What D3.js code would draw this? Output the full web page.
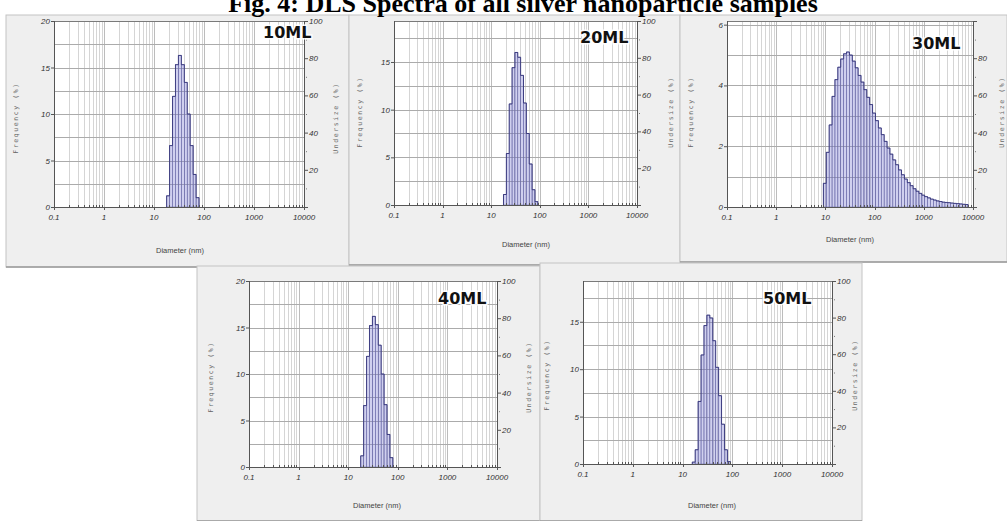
<!DOCTYPE html>
<html><head><meta charset="utf-8">
<script src="https://cdn.jsdelivr.net/npm/d3@7"></script>
<style>
html,body{margin:0;padding:0;background:#fff;}
svg{display:block;}
</style></head><body>
<svg id="chart" width="1007" height="521"></svg>
<script>
// ---------------- DATA ----------------
const titleText = "Fig. 4: DLS Spectra of all silver nanoparticle samples";
const xAxisTitle = "Diameter (nm)";
const leftAxisTitle = "Frequency (%)";
const rightAxisTitle = "Undersize (%)";

// instrument size classes (bin edges, nm)
const sizeEdges = [9.10, 10.42, 11.93, 13.65, 15.63, 17.90, 20.50, 23.47, 26.87, 30.77,
  35.23, 40.34, 46.19, 52.89, 60.56, 69.34, 79.43, 90.95, 104.15, 119.25,
  136.54, 156.34, 179.01, 204.97, 234.69, 268.72, 307.68, 352.30, 403.39, 461.88,
  528.86, 605.55, 693.36, 793.93, 909.5, 1041.5, 1192.5, 1365.4, 1563.4, 1790.1,
  2049.7, 2346.9, 2687.2, 3076.8, 3523.0, 4033.9, 4618.8, 5288.6, 6055.5, 6933.6, 7939.3];

const sampleNames = ["10ML", "20ML", "30ML", "40ML", "50ML"];
// first bin lower edge (nm) of each sample
const firstEdges = [17.90, 17.90, 9.10, 17.90, 15.63];

const freq10ML = [1.2, 6.6, 11.9, 15.3, 16.3, 15.3, 13.4, 10.0, 6.6, 3.5, 1.0];
const freq20ML = [1.1, 5.4, 10.6, 14.4, 16.0, 15.5, 13.6, 10.7, 7.5, 4.3, 1.6, 0.35];
const freq30ML = [0.78, 1.8, 2.7, 3.64, 4.19, 4.6, 4.87, 5.04, 5.1, 5.0,
  4.8, 4.58, 4.33, 4.11, 3.86, 3.61, 3.37, 3.09, 2.84, 2.6,
  2.38, 2.16, 1.94, 1.74, 1.55, 1.39, 1.22, 1.06, 0.92, 0.8,
  0.7, 0.6, 0.52, 0.45, 0.39, 0.34, 0.3, 0.26, 0.23, 0.2,
  0.18, 0.16, 0.15, 0.14, 0.13, 0.12, 0.11, 0.1, 0.09, 0.08];
const freq40ML = [1.2, 6.6, 11.9, 15.2, 16.2, 15.3, 13.1, 10.0, 6.7, 3.5, 1.0];
const freq50ML = [0.2, 1.5, 6.6, 11.5, 14.6, 15.7, 15.4, 13.0, 10.2, 7.2, 4.2, 1.5, 0.25];

const xTickValues = [0.1, 1, 10, 100, 1000, 10000];
const xTickLabels = ["0.1", "1", "10", "100", "1000", "10000"];
const leftTicks20 = [0, 5, 10, 15, 20];
const leftTicks19 = [0, 5, 10, 15];
const leftTicks6 = [0, 2, 4, 6];
const leftMax = [20, 19.3, 6.12, 20, 19.3];
const rightTicks = [0, 20, 40, 60, 80, 100];
const rightMinor = [10, 30, 50, 70, 90];

// ---------------- LAYOUT ----------------
const panels = [
  {freq: freq10ML, ticks: leftTicks20, grid: 2.5, bg: [6, 15, 343, 252], x0: 54, x1: 304, yT: 21, yB: 207,
   lbl: [263, 38], dia: [180, 253], ltX: 18, rtX: 338, tY: 118, show100: true},
  {freq: freq20ML, ticks: leftTicks19, grid: 2.5, bg: [349, 15, 331, 250], x0: 394, x1: 637, yT: 21, yB: 205,
   lbl: [580, 43], dia: [526, 247], ltX: 362, rtX: 673, tY: 112, show100: true},
  {freq: freq30ML, ticks: leftTicks6, grid: 1, bg: [680, 15, 327, 247], x0: 727, x1: 973, yT: 21, yB: 207,
   lbl: [912, 49], dia: [850, 242], ltX: 693, rtX: 1004, tY: 112, show100: false},
  {freq: freq40ML, ticks: leftTicks20, grid: 2.5, bg: [197, 266, 343, 255], x0: 249, x1: 497, yT: 281, yB: 467,
   lbl: [438, 304], dia: [377, 508], ltX: 213, rtX: 531, tY: 377, show100: true},
  {freq: freq50ML, ticks: leftTicks19, grid: 2.5, bg: [540, 263, 322, 258], x0: 583, x1: 832, yT: 281, yB: 464,
   lbl: [763, 304], dia: [712, 508], ltX: 549, rtX: 857, tY: 375, show100: true}
];

const svg = d3.select("#chart");
const tickFont = "'Liberation Sans', Arial, sans-serif";

panels.forEach((p, pi) => {
  const g = svg.append("g");
  // panel background
  g.append("rect").attr("x", p.bg[0]).attr("y", p.bg[1]).attr("width", p.bg[2]).attr("height", p.bg[3])
    .attr("fill", "#efefef").attr("stroke", "#c4c4c4").attr("stroke-width", 1);
  g.append("line").attr("x1", p.bg[0]).attr("x2", p.bg[0] + p.bg[2]).attr("y1", p.bg[1] + p.bg[3]).attr("y2", p.bg[1] + p.bg[3])
    .attr("stroke", "#9a9a9a").attr("stroke-width", 1.5);

  const x = d3.scaleLog().domain([0.1, 10000]).range([p.x0, p.x1]);
  const yL = d3.scaleLinear().domain([0, leftMax[pi]]).range([p.yB, p.yT]);
  const yR = d3.scaleLinear().domain([0, 100]).range([p.yB, p.yT]);

  // plot area
  g.append("rect").attr("x", p.x0).attr("y", p.yT).attr("width", p.x1 - p.x0).attr("height", p.yB - p.yT).attr("fill", "#fff");

  // vertical grid
  const minorVals = [];
  for (let dec = 0.1; dec < 10000; dec *= 10) for (let m = 1; m < 10; m++) minorVals.push(+(dec * m).toPrecision(3));
  minorVals.push(10000);
  g.append("g").selectAll("line").data(minorVals).join("line")
    .attr("x1", d => Math.round(x(d)) + 0.5).attr("x2", d => Math.round(x(d)) + 0.5)
    .attr("y1", p.yT).attr("y2", p.yB)
    .attr("stroke", d => xTickValues.includes(d) ? "#bcbcbc" : "#d5d5d5").attr("stroke-width", 1);

  // horizontal grid
  const hVals = d3.range(p.grid, leftMax[pi], p.grid);
  g.append("g").selectAll("line").data(hVals).join("line")
    .attr("x1", p.x0).attr("x2", p.x1)
    .attr("y1", d => Math.round(yL(d)) + 0.5).attr("y2", d => Math.round(yL(d)) + 0.5)
    .attr("stroke", "#ababab").attr("stroke-width", 1);

  // bars
  const start = sizeEdges.indexOf(firstEdges[pi]);
  const bars = p.freq.map((v, i) => ({lo: sizeEdges[start + i], hi: sizeEdges[start + i + 1], v}));
  g.append("g").selectAll("rect").data(bars).join("rect")
    .attr("x", d => x(d.lo)).attr("width", d => x(d.hi) - x(d.lo))
    .attr("y", d => yL(d.v)).attr("height", d => p.yB - yL(d.v))
    .attr("fill", "rgba(125,125,210,0.36)").attr("stroke", "#6a6aa6").attr("stroke-width", 0.55);
  // step outline
  const stepPts = [];
  bars.forEach(d => { stepPts.push([x(d.lo), yL(d.v)]); stepPts.push([x(d.hi), yL(d.v)]); });
  const first = bars[0], last = bars[bars.length - 1];
  stepPts.unshift([x(first.lo), p.yB]);
  stepPts.push([x(last.hi), p.yB]);
  g.append("path").attr("d", d3.line()(stepPts)).attr("fill", "none").attr("stroke", "#34347a").attr("stroke-width", 0.9);

  // frame
  g.append("line").attr("x1", p.x0).attr("x2", p.x1 + 4).attr("y1", p.yT + 0.5).attr("y2", p.yT + 0.5).attr("stroke", "#7a7a7a");
  g.append("line").attr("x1", p.x0 + 0.5).attr("x2", p.x0 + 0.5).attr("y1", p.yT).attr("y2", p.yB).attr("stroke", "#555");
  g.append("line").attr("x1", p.x1 + 0.5).attr("x2", p.x1 + 0.5).attr("y1", p.yT).attr("y2", p.yB).attr("stroke", "#555");
  g.append("line").attr("x1", p.x0).attr("x2", p.x1).attr("y1", p.yB + 0.5).attr("y2", p.yB + 0.5).attr("stroke", "#555");

  // bottom axis ticks (minor marks) and labels
  g.append("g").selectAll("line").data(minorVals).join("line")
    .attr("x1", d => Math.round(x(d)) + 0.5).attr("x2", d => Math.round(x(d)) + 0.5)
    .attr("y1", p.yB).attr("y2", d => xTickValues.includes(d) ? p.yB + 3 : p.yB - 2)
    .attr("stroke", "#555").attr("stroke-width", 1);
  g.append("g").selectAll("text").data(xTickValues).join("text")
    .attr("x", d => x(d)).attr("y", p.yB + 13)
    .attr("text-anchor", "middle").attr("font-family", tickFont).attr("font-style", "italic")
    .attr("font-size", 8).attr("fill", "#333")
    .text((d, i) => xTickLabels[i]);

  // left axis ticks
  g.append("g").selectAll("line").data(p.ticks).join("line")
    .attr("x1", p.x0 - 3).attr("x2", p.x0).attr("y1", d => yL(d) + 0.5).attr("y2", d => yL(d) + 0.5)
    .attr("stroke", "#555");
  g.append("g").selectAll("text").data(p.ticks).join("text")
    .attr("x", p.x0 - 4).attr("y", d => yL(d) + 3)
    .attr("text-anchor", "end").attr("font-family", tickFont).attr("font-style", "italic")
    .attr("font-size", 8).attr("fill", "#333").text(d => d);

  // right axis ticks
  g.append("g").selectAll("line").data(rightTicks).join("line")
    .attr("x1", p.x1).attr("x2", p.x1 + 4).attr("y1", d => yR(d) + 0.5).attr("y2", d => yR(d) + 0.5)
    .attr("stroke", "#555");
  g.append("g").selectAll("line").data(rightMinor).join("line")
    .attr("x1", p.x1 + 2).attr("x2", p.x1 + 3).attr("y1", d => yR(d) + 0.5).attr("y2", d => yR(d) + 0.5)
    .attr("stroke", "#777");
  g.append("g").selectAll("text").data(rightTicks.filter(d => d > 0 && (d < 100 || p.show100))).join("text")
    .attr("x", p.x1 + 5).attr("y", d => yR(d) + 3)
    .attr("font-family", tickFont).attr("font-style", "italic")
    .attr("font-size", 8).attr("fill", "#333").text(d => d);

  // axis titles
  g.append("text").attr("transform", `translate(${p.ltX},${p.tY}) rotate(-90)`)
    .attr("text-anchor", "middle").attr("font-family", "'DejaVu Sans Mono', monospace")
    .attr("font-size", 6.5).attr("letter-spacing", 1.6).attr("fill", "#666").text(leftAxisTitle);
  g.append("text").attr("transform", `translate(${p.rtX},${p.tY}) rotate(-90)`)
    .attr("text-anchor", "middle").attr("font-family", "'DejaVu Sans Mono', monospace")
    .attr("font-size", 6.5).attr("letter-spacing", 1.6).attr("fill", "#666").text(rightAxisTitle);
  g.append("text").attr("x", p.dia[0]).attr("y", p.dia[1])
    .attr("text-anchor", "middle").attr("font-family", tickFont)
    .attr("font-size", 7.5).attr("fill", "#444").text(xAxisTitle);

  // sample label
  g.append("text").attr("x", p.lbl[0]).attr("y", p.lbl[1])
    .attr("font-family", "'DejaVu Sans', sans-serif").attr("font-weight", "bold")
    .attr("font-size", 16).attr("fill", "#111")
    .attr("stroke", "rgba(255,255,255,0.9)").attr("stroke-width", 3).attr("paint-order", "stroke")
    .text(sampleNames[pi]);
});

// title (top partly cropped, as in the reference figure)
svg.append("text").attr("x", 523).attr("y", 12).attr("text-anchor", "middle")
  .attr("font-family", "'Liberation Serif', 'Times New Roman', serif").attr("font-weight", "bold")
  .attr("font-size", 26).attr("fill", "#000").text(titleText);
</script>
</body></html>
